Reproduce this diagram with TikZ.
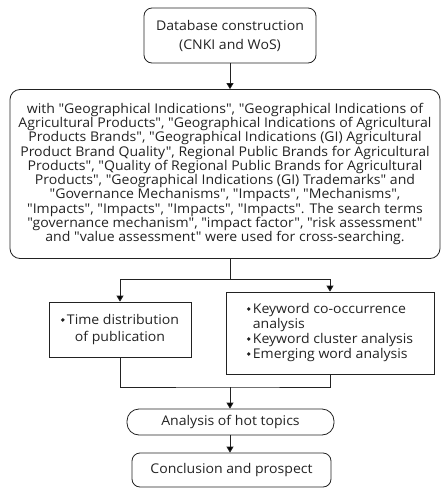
\documentclass[tikz,border=0pt]{standalone}
\usepackage{fontspec}
\setmainfont{Open Sans}[Ligatures=TeXOff, FakeStretch=1.05]
\usetikzlibrary{arrows.meta}
\definecolor{ink}{HTML}{222222}
\newcommand\bul{\raisebox{2.6pt}{\tikz\fill[ink] (0,0) circle (1.9pt);}}
\tikzset{
  box/.style={draw=ink, line width=0.8pt, text=ink, align=center, inner sep=0pt,
    font=\fontsize{13.4}{14.3}\selectfont},
  rbox/.style={box, rounded corners=8pt},
  conn/.style={draw=ink, line width=0.8pt},
  arr/.style={conn, -{Triangle[width=7pt,length=6pt]}},
}
\begin{document}
\begin{tikzpicture}[x=1pt,y=-1pt]
\useasboundingbox (0,0) rectangle (442,488);
\node[rbox, minimum width=172pt, minimum height=55pt, font=\fontsize{13.4}{19}\selectfont] (db) at (230,35.5)
  {Database construction\\(CNKI and WoS)};
\node[rbox, rounded corners=10pt, minimum width=430pt, minimum height=169pt] (big) at (225,174)
  {with "Geographical Indications", "Geographical Indications of\\
Agricultural Products", "Geographical Indications of Agricultural\\
Products Brands", "Geographical Indications (GI) Agricultural\\
Product Brand Quality", Regional Public Brands for Agricultural\\
Products", "Quality of Regional Public Brands for Agricultural\\
Products", "Geographical Indications (GI) Trademarks" and\\
"Governance Mechanisms", "Impacts", "Mechanisms",\\
"Impacts", "Impacts", "Impacts", "Impacts". The search terms\\
"governance mechanism", "impact factor", "risk assessment"\\
and "value assessment" were used for cross-searching.};
\node[box, minimum width=142pt, minimum height=55pt, font=\fontsize{13.4}{17}\selectfont] (left) at (120,329.5)
  {\bul\,Time distribution\\of publication};
\node[box, minimum width=208pt, minimum height=82pt, font=\fontsize{13.4}{15}\selectfont] (right) at (330,333)
  {\raisebox{-2pt}{\begin{tabular}{@{}l@{\,}l@{}}\bul & Keyword co-occurrence\\ & analysis\\
   \bul & Keyword cluster analysis\\ \bul & Emerging word analysis\end{tabular}}};
\node[rbox, rounded corners=12pt, minimum width=207pt, minimum height=26pt] (hot) at (230.5,422)
  {Analysis of hot topics};
\node[rbox, minimum width=199pt, minimum height=34pt] (conc) at (231.5,470)
  {Conclusion and prospect};
\coordinate (split) at (230,279);
\coordinate (merge) at (230,387);
\draw[arr] (db.south) -- (db.south |- big.north);
\draw[conn] (db.south |- big.south) -- (split);
\draw[arr] (split) -| (left.north);
\draw[arr] (split) -| (right.north);
\draw[conn] (left.south) |- (merge) -| (right.south);
\draw[arr] (merge) -- (merge |- hot.north);
\draw[arr] (hot.south -| merge) -- (merge |- conc.north);
\end{tikzpicture}
\end{document}
